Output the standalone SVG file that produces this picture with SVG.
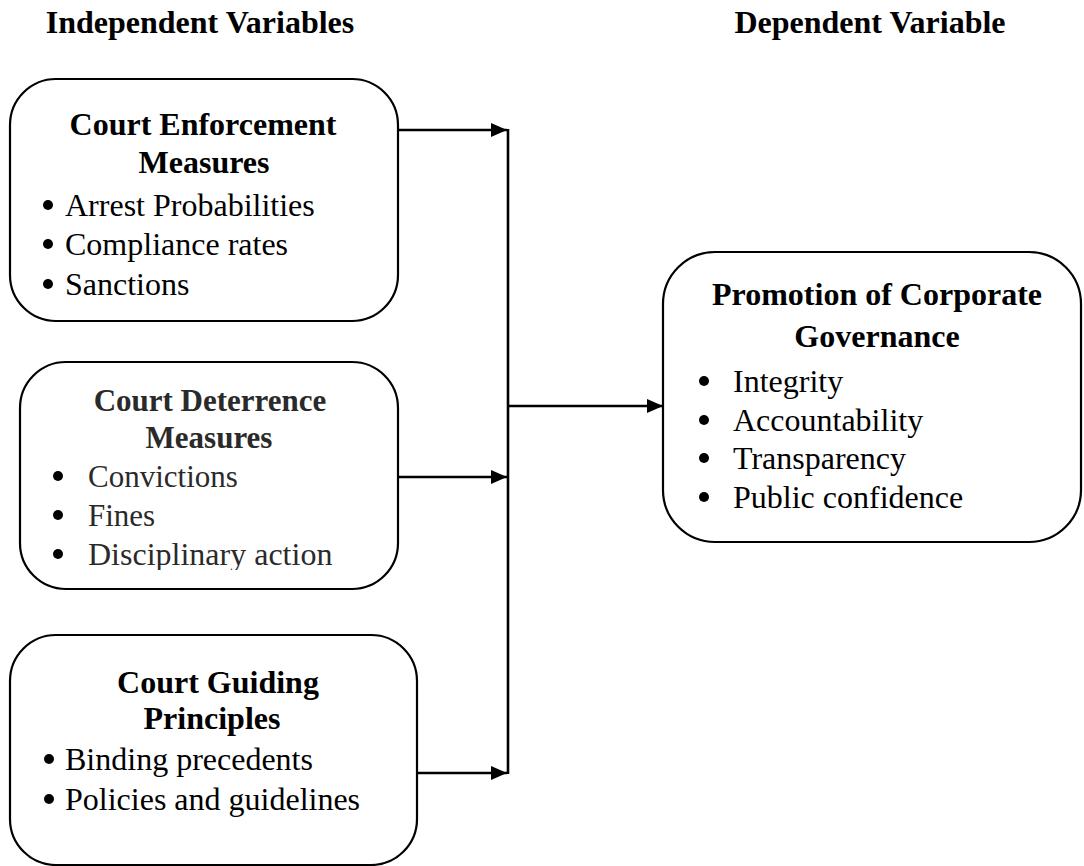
<svg xmlns="http://www.w3.org/2000/svg" width="1084" height="866" viewBox="0 0 1084 866">
<style>
.box{fill:#fff;stroke:#000;stroke-width:2.2}
.h{font-family:"Liberation Serif","Times New Roman",serif;font-weight:bold;font-size:32px;fill:#000}
.t{font-family:"Liberation Serif","Times New Roman",serif;font-size:32px;fill:#000}
.g{fill:#2a2a2a}
.c{text-anchor:middle}
.dot{fill:#000}
.ln{stroke:#000;stroke-width:2.6;fill:none}
</style>
<defs>
<marker id="arr" markerUnits="userSpaceOnUse" markerWidth="16" markerHeight="14" refX="16" refY="7" orient="auto">
<path d="M0,0 L16,7 L0,14 Z" fill="#000"/>
</marker>
<clipPath id="clip2"><rect x="20" y="362" width="378" height="208"/></clipPath>
</defs>
<g id="headers">
<text class="h c" x="200" y="33">Independent Variables</text>
<text class="h c" x="870" y="33">Dependent Variable</text>
</g>
<g id="connectors">
<line class="ln" x1="398" y1="130" x2="507" y2="130" marker-end="url(#arr)"/>
<line class="ln" x1="398" y1="477" x2="507" y2="477" marker-end="url(#arr)"/>
<line class="ln" x1="417" y1="773" x2="507" y2="773" marker-end="url(#arr)"/>
<line class="ln" x1="508" y1="129" x2="508" y2="774"/>
<line class="ln" x1="508" y1="406" x2="663" y2="406" marker-end="url(#arr)"/>
</g>
<g id="enforcement">
<rect class="box" x="10" y="79" width="388" height="242" rx="46"/>
<text class="h c" x="203" y="135">Court Enforcement</text>
<text class="h c" x="204" y="173">Measures</text>
<circle class="dot" cx="48" cy="205" r="5"/><text class="t" x="65" y="216">Arrest Probabilities</text>
<circle class="dot" cx="48" cy="244" r="5"/><text class="t" x="65" y="255">Compliance rates</text>
<circle class="dot" cx="48" cy="284" r="5"/><text class="t" x="65" y="295">Sanctions</text>
</g>
<g id="deterrence">
<rect class="box" x="20" y="362" width="378" height="227" rx="46"/>
<g clip-path="url(#clip2)">
<text class="h c g" x="210" y="411" style="font-size:31px">Court Deterrence</text>
<text class="h c g" x="209" y="448" style="font-size:31px">Measures</text>
<circle class="dot g" cx="58" cy="476" r="5"/><text class="t g" x="88" y="487" style="font-size:31px">Convictions</text>
<circle class="dot g" cx="58" cy="515" r="5"/><text class="t g" x="88" y="526" style="font-size:31px">Fines</text>
<circle class="dot g" cx="58" cy="554" r="5"/><text class="t g" x="88" y="565">Disciplinary action</text>
</g>
</g>
<g id="guiding">
<rect class="box" x="10" y="635" width="407" height="230" rx="46"/>
<text class="h c" x="218" y="693">Court Guiding</text>
<text class="h c" x="212" y="729">Principles</text>
<circle class="dot" cx="49" cy="759" r="5"/><text class="t" x="65" y="770">Binding precedents</text>
<circle class="dot" cx="49" cy="799" r="5"/><text class="t" x="65" y="810">Policies and guidelines</text>
</g>
<g id="governance">
<rect class="box" x="663" y="252" width="418" height="290" rx="52"/>
<text class="h c" x="877" y="305">Promotion of Corporate</text>
<text class="h c" x="877" y="347">Governance</text>
<circle class="dot" cx="704" cy="381" r="5"/><text class="t" x="733" y="392">Integrity</text>
<circle class="dot" cx="704" cy="420" r="5"/><text class="t" x="733" y="431">Accountability</text>
<circle class="dot" cx="704" cy="458" r="5"/><text class="t" x="733" y="469">Transparency</text>
<circle class="dot" cx="704" cy="497" r="5"/><text class="t" x="733" y="508">Public confidence</text>
</g>
</svg>
